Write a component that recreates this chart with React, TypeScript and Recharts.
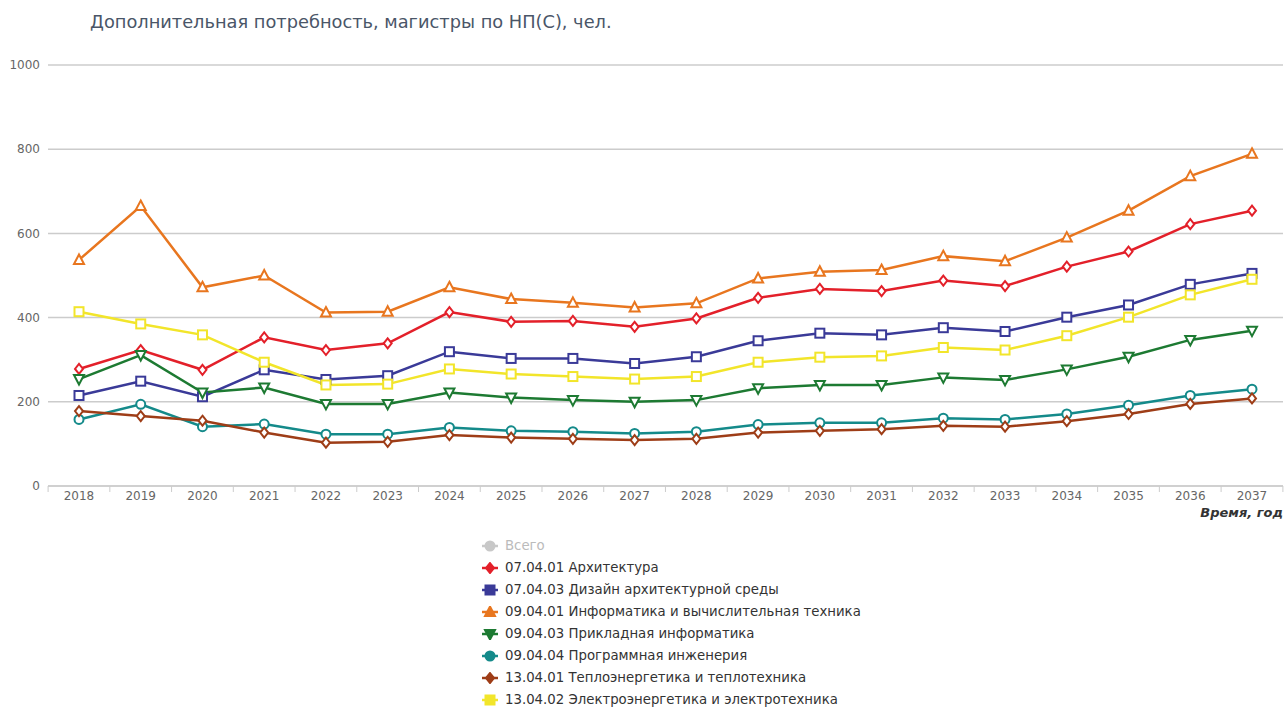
import React from 'react';
import { LineChart, Line, XAxis, YAxis, CartesianGrid } from 'recharts';

const years = ['2018','2019','2020','2021','2022','2023','2024','2025','2026','2027','2028','2029','2030','2031','2032','2033','2034','2035','2036','2037'];
const arch = [278,323,276,353,323,339,413,390,392,378,398,447,468,463,488,475,521,557,622,654];
const design = [215,249,212,276,253,262,319,303,303,291,307,345,363,359,376,367,401,430,479,505];
const informatics = [537,665,472,500,412,414,472,444,435,424,434,493,509,513,546,534,590,654,736,789];
const applied = [254,311,222,234,195,195,222,210,204,200,204,232,240,240,258,252,277,307,347,369];
const software = [158,194,141,147,123,123,139,131,129,125,129,146,150,150,161,158,171,192,215,230];
const heat = [178,166,155,127,103,105,121,115,112,109,112,127,131,135,143,141,154,171,195,208];
const power = [414,385,359,294,240,242,278,266,260,254,260,294,306,309,329,323,357,401,454,491];
const yTicks = [0, 200, 400, 600, 800, 1000];

const series = [
  { key: 'arch', name: '07.04.01 Архитектура', color: '#e3202a', shape: 'diamond', values: arch },
  { key: 'design', name: '07.04.03 Дизайн архитектурной среды', color: '#3a3a98', shape: 'square', values: design },
  { key: 'informatics', name: '09.04.01 Информатика и вычислительная техника', color: '#e8761f', shape: 'triangle', values: informatics },
  { key: 'applied', name: '09.04.03 Прикладная информатика', color: '#1d7a32', shape: 'triangleDown', values: applied },
  { key: 'software', name: '09.04.04 Программная инженерия', color: '#148a8a', shape: 'circle', values: software },
  { key: 'heat', name: '13.04.01 Теплоэнергетика и теплотехника', color: '#9e3d17', shape: 'diamond', values: heat },
  { key: 'power', name: '13.04.02 Электроэнергетика и электротехника', color: '#f2e52a', shape: 'square', values: power },
];

const data = years.map((y, i) => {
  const row: any = { year: y };
  series.forEach(s => { row[s.key] = s.values[i]; });
  return row;
});

const FONT = '"DejaVu Sans", sans-serif';

function Marker({ cx, cy, shape, color, fill }: any) {
  if (cx == null || cy == null) return null;
  const sw = 2;
  switch (shape) {
    case 'diamond':
      return <path d={`M${cx},${cy - 5} L${cx + 4},${cy} L${cx},${cy + 5} L${cx - 4},${cy} Z`} fill={fill} stroke={color} strokeWidth={sw} />;
    case 'square':
      return <rect x={cx - 4.5} y={cy - 4.5} width={9} height={9} fill={fill} stroke={color} strokeWidth={sw} />;
    case 'triangle':
      return <path d={`M${cx},${cy - 5.5} L${cx + 5},${cy + 4} L${cx - 5},${cy + 4} Z`} fill={fill} stroke={color} strokeWidth={sw} />;
    case 'triangleDown':
      return <path d={`M${cx},${cy + 5.5} L${cx + 5},${cy - 4} L${cx - 5},${cy - 4} Z`} fill={fill} stroke={color} strokeWidth={sw} />;
    default:
      return <circle cx={cx} cy={cy} r={4.5} fill={fill} stroke={color} strokeWidth={sw} />;
  }
}

const HALF_BAND = 30.9;

function XTick(props: any) {
  const { x, y, payload, index } = props;
  return (
    <g>
      <line x1={x - HALF_BAND} x2={x - HALF_BAND} y1={y - 8} y2={y - 2} stroke="#ccc" strokeWidth={1} />
      {index === years.length - 1 && (
        <line x1={x + HALF_BAND} x2={x + HALF_BAND} y1={y - 8} y2={y - 2} stroke="#ccc" strokeWidth={1} />
      )}
      <text x={x} y={y + 6} textAnchor="middle" fill="#666" fontSize={12} fontFamily={FONT}>{payload.value}</text>
    </g>
  );
}

function LegendIcon({ shape, color }: any) {
  return (
    <svg width={18} height={12} style={{ display: 'inline-block', verticalAlign: 'middle', marginRight: 6 }}>
      <line x1={1} x2={17} y1={6} y2={6} stroke={color} strokeWidth={2.5} />
      <Marker cx={9} cy={6} shape={shape} color={color} fill={color} />
    </svg>
  );
}

export default function App() {
  return (
    <div style={{ position: 'absolute', left: 0, top: 0, width: 1285, height: 707, background: '#fff', fontFamily: FONT }}>
      <div style={{ position: 'absolute', left: 90, top: 11, fontSize: 17.8, color: '#4a5668', whiteSpace: 'nowrap' }}>
        Дополнительная потребность, магистры по НП(С), чел.
      </div>
      <LineChart width={1285} height={707} data={data} margin={{ top: 65, right: 2, bottom: 191, left: 8 }}>
        <CartesianGrid vertical={false} stroke="#cccccc" strokeWidth={1.5} />
        <XAxis dataKey="year" height={30} padding={{ left: 31, right: 31 }} axisLine={{ stroke: '#cccccc', strokeWidth: 1.5 }} tickLine={false} tick={<XTick />} interval={0} />
        <YAxis domain={[0, 1000]} ticks={yTicks} width={40} axisLine={false} tickLine={false}
          tick={{ fill: '#666', fontSize: 12, fontFamily: FONT }} />
        {series.map(s => (
          <Line key={s.key} dataKey={s.key} name={s.name} stroke={s.color} strokeWidth={2.5}
            isAnimationActive={false}
            dot={(p: any) => <Marker key={`${s.key}-${p.index}`} cx={p.cx} cy={p.cy} shape={s.shape} color={s.color} fill="#fff" />}
            activeDot={false} />
        ))}
      </LineChart>
      <div style={{ position: 'absolute', right: 2, top: 505, fontSize: 13, fontWeight: 'bold', fontStyle: 'italic', color: '#333' }}>
        Время, год
      </div>
      <div style={{ position: 'absolute', left: 481, top: 535, fontSize: 13.3, color: '#333' }}>
        <div style={{ height: 22, lineHeight: '22px', color: '#bbb', whiteSpace: 'nowrap' }}>
          <LegendIcon shape="circle" color="#c8c8c8" />Всего
        </div>
        {series.map(s => (
          <div key={s.key} style={{ height: 22, lineHeight: '22px', whiteSpace: 'nowrap' }}>
            <LegendIcon shape={s.shape} color={s.color} />{s.name}
          </div>
        ))}
      </div>
    </div>
  );
}
